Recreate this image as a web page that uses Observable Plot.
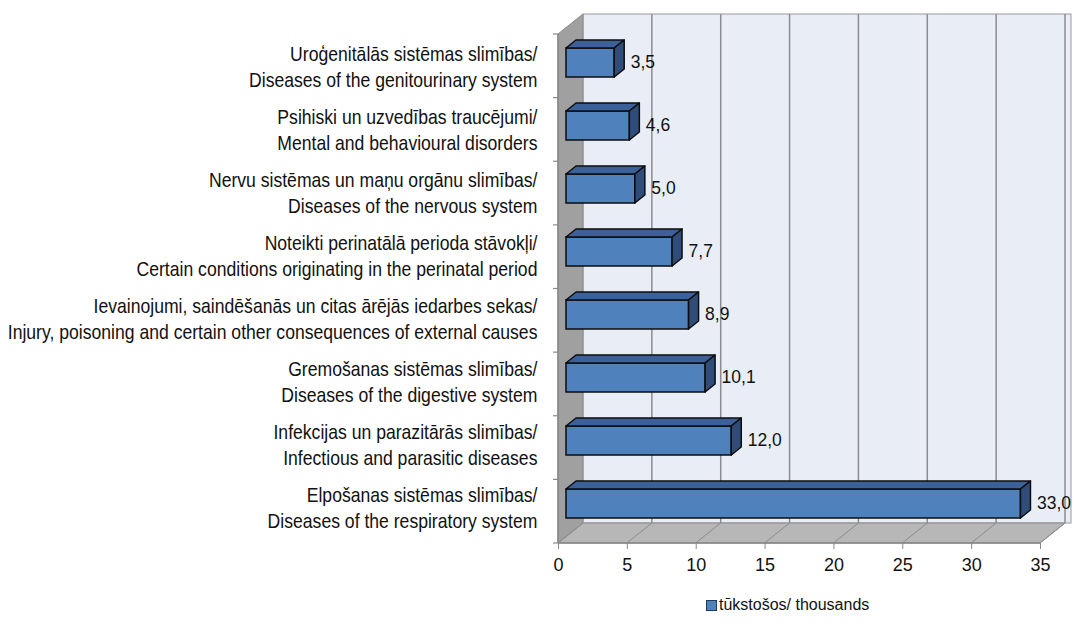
<!DOCTYPE html>
<html>
<head>
<meta charset="utf-8">
<script src="https://cdn.jsdelivr.net/npm/d3@7"></script>
<script src="https://cdn.jsdelivr.net/npm/@observablehq/plot@0.6"></script>
<style>
  body { margin: 0; background: #fff; }
  #wrap { position: relative; width: 1073px; height: 628px; overflow: hidden; }
  #legend { position: absolute; left: 706px; top: 596px; display: flex; align-items: center;
    font-family: 'Liberation Sans', Arial, sans-serif; font-size: 16px; color: #111; }
  #legend .sw { width: 9px; height: 9px; background: #4F81BD; border: 1px solid #1f3a60; margin-right: 2px; }
  g[aria-label="x-axis tick"] { stroke: #888; }
</style>
</head>
<body>
<div id="wrap"><div id="chart"></div>
<div id="legend"><span class="sw"></span><span id="legtext"></span></div></div>
<script>
const categories = [
  "Uroģenitālās sistēmas slimības/\nDiseases of the genitourinary system",
  "Psihiski un uzvedības traucējumi/\nMental and behavioural disorders",
  "Nervu sistēmas un maņu orgānu slimības/\nDiseases of the nervous system",
  "Noteikti perinatālā perioda stāvokļi/\nCertain conditions originating in the perinatal period",
  "Ievainojumi, saindēšanās un citas ārējās iedarbes sekas/\nInjury, poisoning and certain other consequences of external causes",
  "Gremošanas sistēmas slimības/\nDiseases of the digestive system",
  "Infekcijas un parazitārās slimības/\nInfectious and parasitic diseases",
  "Elpošanas sistēmas slimības/\nDiseases of the respiratory system"
];
const values = [3.5, 4.6, 5.0, 7.7, 8.9, 10.1, 12.0, 33.0];
const xTicks = [0, 5, 10, 15, 20, 25, 30, 35];
const seriesName = "tūkstošos/ thousands";

document.getElementById("legtext").textContent = seriesName;
const data = categories.map((c, i) => ({cat: c, value: values[i], label: values[i].toFixed(1).replace(".", ",")}));

const FONT = "'Liberation Sans', Arial, sans-serif";
const W = 1073, H = 585, MT = 34, MB = 42, ML = 558, MR = 33;
const DX = 25, DY = 20;          // box depth
const BDX = 8, BDY = -6;         // bar front offset inside box
const BD_X = 10, BD_Y = 8;       // bar depth
const LABEL_RIGHT = 537;

const chart = Plot.plot({
  width: W, height: H,
  marginTop: MT, marginBottom: MB, marginLeft: ML, marginRight: MR,
  style: {fontFamily: FONT, fontSize: "18px", color: "#111", background: "transparent"},
  x: {domain: [0, 35], ticks: xTicks, tickSize: 6, tickPadding: 9, label: null, tickFormat: d => String(d)},
  y: {domain: categories, paddingInner: 0.545, paddingOuter: 0.2725, axis: null},
  marks: [
    Plot.barX(data, {x: "value", y: "cat", fill: "#4F81BD", stroke: "#0d0d0d", strokeWidth: 1.5, dx: BDX, dy: BDY}),
    Plot.text(data, {x: "value", y: "cat", text: "label", textAnchor: "start", dx: BDX + BD_X + 6, dy: BDY - 1, fontSize: 17.5, fill: "#111"}),
    Plot.text(data, {x: () => 0, y: "cat", text: "cat", textAnchor: "end", dx: -(ML - LABEL_RIGHT), dy: -3, lineHeight: 1.28, fontSize: 20, fill: "#111"})
  ]
});
document.getElementById("chart").appendChild(chart);

// 3D decorations computed from Plot's own scales
const X = chart.scale("x"), Y = chart.scale("y");
const x0 = X.apply(0), x35 = X.apply(35);
const yTop = MT, yBot = H - MB;
const step = (yBot - yTop) / categories.length;
const svg = d3.select(chart);
const g = svg.insert("g", "g").attr("class", "decor");
const poly = pts => pts.map(p => p.join(",")).join(" ");

// back wall
g.append("rect").attr("x", x0 + DX).attr("y", yTop - DY).attr("width", x35 - x0 + 6).attr("height", yBot - yTop)
  .attr("fill", "#E9EDF6").attr("stroke", "#9a9a9a").attr("stroke-width", 1);
xTicks.slice(1).forEach(t => {
  g.append("line").attr("x1", X.apply(t) + DX).attr("x2", X.apply(t) + DX).attr("y1", yTop - DY).attr("y2", yBot - DY)
    .attr("stroke", "#8c8c8c").attr("stroke-width", 1.5);
});
// left wall
g.append("polygon").attr("points", poly([[x0, yTop], [x0 + DX, yTop - DY], [x0 + DX, yBot - DY], [x0, yBot]]))
  .attr("fill", "#a0a0a0").attr("stroke", "#8a8a8a").attr("stroke-width", 1);
// floor
g.append("polygon").attr("points", poly([[x0, yBot], [x0 + DX, yBot - DY], [x35 + DX, yBot - DY], [x35, yBot]]))
  .attr("fill", "#b7b7b7").attr("stroke", "#8a8a8a").attr("stroke-width", 1);
xTicks.forEach(t => {
  g.append("line").attr("x1", X.apply(t)).attr("y1", yBot).attr("x2", X.apply(t) + DX).attr("y2", yBot - DY)
    .attr("stroke", "#8c8c8c").attr("stroke-width", 1);
});
// axis lines
g.append("line").attr("x1", x0).attr("x2", x35).attr("y1", yBot).attr("y2", yBot).attr("stroke", "#888").attr("stroke-width", 1.5);
g.append("line").attr("x1", x0).attr("x2", x0).attr("y1", yTop).attr("y2", yBot).attr("stroke", "#888").attr("stroke-width", 1.5);
for (let i = 0; i <= categories.length; i++) {
  const yy = yTop + i * step;
  g.append("line").attr("x1", x0 - 5).attr("x2", x0).attr("y1", yy).attr("y2", yy).attr("stroke", "#888").attr("stroke-width", 1.2);
}

// bar top and side faces
const bw = Y.bandwidth;
const faces = svg.append("g").attr("class", "faces");
data.forEach(d => {
  const xl = X.apply(0) + BDX, xr = X.apply(d.value) + BDX;
  const yt = Y.apply(d.cat) + BDY, yb = yt + bw;
  faces.append("polygon").attr("points", poly([[xl, yt], [xr, yt], [xr + BD_X, yt - BD_Y], [xl + BD_X, yt - BD_Y]]))
    .attr("fill", "#3C619A").attr("stroke", "#0d0d0d").attr("stroke-width", 1.5).attr("stroke-linejoin", "round");
  faces.append("polygon").attr("points", poly([[xr, yt], [xr + BD_X, yt - BD_Y], [xr + BD_X, yb - BD_Y], [xr, yb]]))
    .attr("fill", "#2F4D78").attr("stroke", "#0d0d0d").attr("stroke-width", 1.5).attr("stroke-linejoin", "round");
});

// narrow the category labels (Arial Narrow look), anchored at their right edge
const textGroups = chart.querySelectorAll('g[aria-label="text"]');
const catGroup = textGroups[textGroups.length - 1];
const wrapG = document.createElementNS("http://www.w3.org/2000/svg", "g");
wrapG.setAttribute("transform", `translate(${LABEL_RIGHT},0) scale(0.88,1) translate(${-LABEL_RIGHT},0)`);
catGroup.parentNode.insertBefore(wrapG, catGroup);
wrapG.appendChild(catGroup);
</script>
</body>
</html>
